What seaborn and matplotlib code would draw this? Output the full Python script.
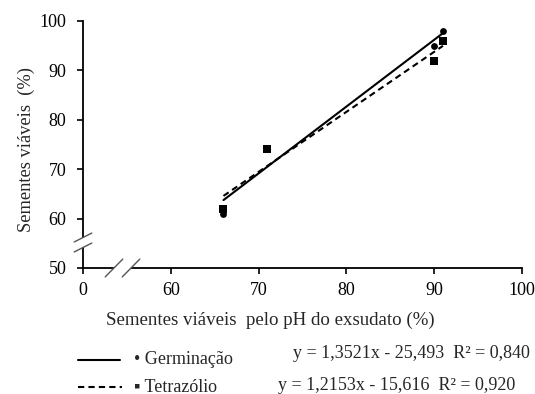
import numpy as np
import matplotlib
matplotlib.use("Agg")
import matplotlib.pyplot as plt
import seaborn as sns
from matplotlib.lines import Line2D

# Data
x_ph = [66, 71, 90, 91]
germinacao = [61, 74, 95, 98]
tetrazolio = [62, 74, 92, 96]

x_ticks = [50, 60, 70, 80, 90, 100]
x_tick_labels = ["0", "60", "70", "80", "90", "100"]
y_ticks = [50, 60, 70, 80, 90, 100]

eq_germ = "y = 1,3521x - 25,493  R² = 0,840"
eq_tetra = "y = 1,2153x - 15,616  R² = 0,920"

sns.set_style("ticks")
plt.rcParams["font.family"] = ["Liberation Serif", "DejaVu Serif"]

W, H = 535, 394
fig = plt.figure(figsize=(W / 100, H / 100), dpi=100)
ax = fig.add_axes([83 / W, 1 - 268 / H, (522 - 83) / W, (268 - 21) / H])

# Germinacao
sns.regplot(
    x=x_ph, y=germinacao, ax=ax, ci=None, truncate=True,
    marker="o", color="black",
    scatter_kws={"s": 24, "zorder": 3, "linewidths": 0, "alpha": 1},
    line_kws={"lw": 1.5, "linestyle": "-", "zorder": 2},
)

# Tetrazolio
sns.regplot(
    x=x_ph, y=tetrazolio, ax=ax, ci=None, truncate=True,
    marker="s", color="black",
    scatter_kws={"s": 28, "zorder": 4, "linewidths": 0, "alpha": 1},
    line_kws={"lw": 1.5, "linestyle": (0, (3, 2)), "zorder": 2},
)

ax.set_xlim(50, 100)
ax.set_ylim(50, 100)
ax.set_xticks(x_ticks)
ax.set_xticklabels(x_tick_labels)
ax.set_yticks(y_ticks)

sns.despine(ax=ax)
for side in ["left", "bottom"]:
    ax.spines[side].set_linewidth(1.3)
    ax.spines[side].set_color("black")

ax.tick_params(axis="both", labelsize=13, length=4, width=1.2, colors="black")
ax.tick_params(axis="x", pad=6)
ax.tick_params(axis="y", pad=8)

ax.set_xlabel("Sementes viáveis  pelo pH do exsudato (%)", fontsize=13.6)
ax.set_ylabel("Sementes viáveis  (%)", fontsize=13.3)
ax.xaxis.set_label_coords(0.426, -0.175)
ax.yaxis.set_label_coords(-0.11, 0.48)

# axis breaks
# y axis
ax.plot([50, 50], [54.15, 56.17], color="white", lw=3, clip_on=False, zorder=5,
        solid_capstyle="butt")
for yc in [54.15, 56.17]:
    ax.plot([49.0, 51.0], [yc - 0.9, yc + 0.9], color="#555555", lw=1.0,
            clip_on=False, zorder=6)
# x axis
ax.plot([53.53, 55.47], [50, 50], color="white", lw=3, clip_on=False, zorder=5,
        solid_capstyle="butt")
for xc in [53.53, 55.47]:
    ax.plot([xc - 1.0, xc + 1.0], [48.2, 51.8], color="#555555", lw=1.0,
            clip_on=False, zorder=6)

# legend below the plot
fig.add_artist(Line2D([78 / W, 120 / W], [1 - 360 / H] * 2, color="black", lw=1.5))
fig.add_artist(Line2D([78 / W, 122 / W], [1 - 387 / H] * 2, color="black", lw=1.5,
                      linestyle=(0, (3, 2))))
fig.text(134 / W, 1 - 360 / H, "• Germinação", fontsize=13, va="center", ha="left")
fig.text(134 / W, 1 - 387 / H, "▪ Tetrazólio", fontsize=13, va="center", ha="left")
fig.text(293 / W, 1 - 353 / H, eq_germ, fontsize=13, va="center", ha="left")
fig.text(278 / W, 1 - 385 / H, eq_tetra, fontsize=13, va="center", ha="left")

fig.savefig("out.png", dpi=100)
